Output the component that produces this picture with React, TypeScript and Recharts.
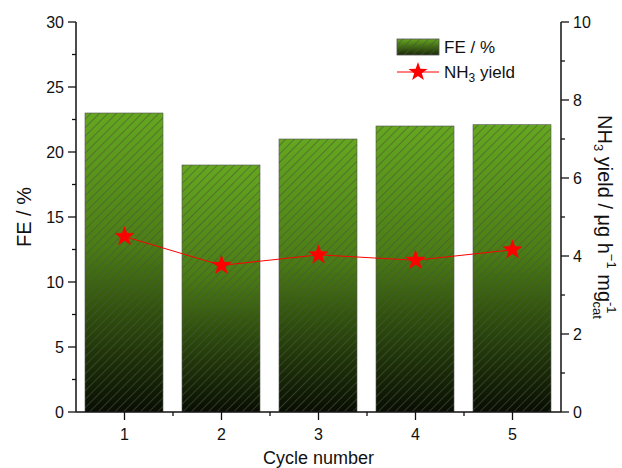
import React from 'react';
import { ComposedChart, Bar, Line, XAxis, YAxis, Legend, Label } from 'recharts';

const cycles = [1, 2, 3, 4, 5];
const feValues = [23.0, 19.0, 21.0, 22.0, 22.1];
const nh3Yield = [4.5, 3.76, 4.03, 3.89, 4.16];
const xTicks = [1, 1.5, 2, 2.5, 3, 3.5, 4, 4.5, 5];
const leftTicks = [0, 2.5, 5, 7.5, 10, 12.5, 15, 17.5, 20, 22.5, 25, 27.5, 30];
const rightTicks = [0, 1, 2, 3, 4, 5, 6, 7, 8, 9, 10];

const data = cycles.map((c, i) => ({ cycle: c, fe: feValues[i], nh3: nh3Yield[i] }));

const FONT = 'Liberation Sans, Arial, sans-serif';
const AXIS = '#111';

const starPoints = (cx: number, cy: number, ro: number, ri: number) => {
  const pts: string[] = [];
  for (let k = 0; k < 10; k++) {
    const r = k % 2 === 0 ? ro : ri;
    const a = -Math.PI / 2 + (k * Math.PI) / 5;
    pts.push(`${cx + r * Math.cos(a)},${cy + r * Math.sin(a)}`);
  }
  return pts.join(' ');
};

const StarDot = (props: any) => {
  const { cx, cy, index } = props;
  if (cx == null || cy == null) return null;
  return <polygon key={`s${index}`} points={starPoints(cx, cy, 10, 4)} fill="#ff0000" stroke="#ff0000" strokeWidth={0.5} />;
};

const BarShape = (props: any) => {
  const { x, y, width, height } = props;
  return (
    <g>
      <rect x={x} y={y} width={width} height={height} fill="url(#feGrad)" />
      <rect x={x} y={y} width={width} height={height} fill="url(#feHatch)" stroke="#555" strokeWidth={0.6} />
    </g>
  );
};

const LeftTick = (props: any) => {
  const { x, y, payload } = props;
  const major = payload.value % 5 === 0;
  return (
    <g>
      <line x1={x - (major ? 8 : 4)} x2={x} y1={y} y2={y} stroke={AXIS} strokeWidth={1.3} />
      {major && (
        <text x={x - 12} y={y} dy={5.5} textAnchor="end" fontSize={16} fontFamily={FONT} fill="#111">
          {payload.value}
        </text>
      )}
    </g>
  );
};

const RightTick = (props: any) => {
  const { x, y, payload } = props;
  const major = payload.value % 2 === 0;
  return (
    <g>
      <line x1={x} x2={x + (major ? 8 : 4)} y1={y} y2={y} stroke={AXIS} strokeWidth={1.3} />
      {major && (
        <text x={x + 12} y={y} dy={5.5} textAnchor="start" fontSize={16} fontFamily={FONT} fill="#111">
          {payload.value}
        </text>
      )}
    </g>
  );
};

const BottomTick = (props: any) => {
  const { x, y, payload } = props;
  const major = Number.isInteger(payload.value);
  return (
    <g>
      <line x1={x} x2={x} y1={y} y2={y + (major ? 8 : 4)} stroke={AXIS} strokeWidth={1.3} />
      {major && (
        <text x={x} y={y + 28} textAnchor="middle" fontSize={16} fontFamily={FONT} fill="#111">
          {payload.value}
        </text>
      )}
    </g>
  );
};

const TopTick = (props: any) => {
  const { x, y } = props;
  return <line x1={x} x2={x} y1={y} y2={y + 6} stroke={AXIS} strokeWidth={1.3} />;
};

const RightLabel = (props: any) => {
  const vb = props.viewBox || {};
  const cx = vb.x + 44;
  const cy = vb.y + vb.height / 2;
  return (
    <text
      x={cx}
      y={cy}
      textAnchor="middle"
      dominantBaseline="central"
      transform={`rotate(90, ${cx}, ${cy})`}
      fontSize={20}
      fontFamily={FONT}
      fill="#111"
    >
      NH<tspan fontSize={13} dy={6}>3</tspan>
      <tspan dy={-6}> yield / μg h</tspan>
      <tspan fontSize={13} dy={-7}>−1</tspan>
      <tspan dy={7}> mg</tspan>
      <tspan fontSize={13} dy={-7}>-1</tspan>
      <tspan fontSize={13} dx={-12} dy={14}>cat</tspan>
    </text>
  );
};

const LeftLabel = (props: any) => {
  const vb = props.viewBox || {};
  const cx = vb.x + 24;
  const cy = vb.y + vb.height / 2;
  return (
    <text
      x={cx}
      y={cy}
      textAnchor="middle"
      dominantBaseline="central"
      transform={`rotate(-90, ${cx}, ${cy})`}
      fontSize={20}
      fontFamily={FONT}
      fill="#111"
    >
      FE / %
    </text>
  );
};

const LegendContent = () => (
  <svg width={160} height={52} style={{ display: 'block', overflow: 'visible' }}>
    <rect x={2} y={1} width={42} height={16} fill="url(#legGrad)" />
    <rect x={2} y={1} width={42} height={16} fill="url(#feHatch)" stroke="#555" strokeWidth={0.8} />
    <text x={49} y={15} fontSize={17} fontFamily={FONT} fill="#111">FE / %</text>
    <line x1={2} x2={44} y1={34} y2={34} stroke="#ff0000" strokeWidth={1} />
    <polygon points={starPoints(23, 34, 10, 4)} fill="#ff0000" />
    <text x={49} y={40} fontSize={17} fontFamily={FONT} fill="#111">
      NH<tspan fontSize={12} dy={4}>3</tspan>
      <tspan dy={-4}> yield</tspan>
    </text>
  </svg>
);

export default function App() {
  return (
    <div style={{ position: 'absolute', left: 0, top: 0, width: 622, height: 468, background: '#fff' }}>
      <ComposedChart
        width={622}
        height={468}
        data={data}
        margin={{ top: 22, right: 0, bottom: 0, left: 0 }}
      >
        <defs>
          <linearGradient id="feGrad" x1="0" y1="0" x2="0" y2="1">
            <stop offset="0%" stopColor="#65a71f" />
            <stop offset="45%" stopColor="#4a7c15" />
            <stop offset="100%" stopColor="#080d03" />
          </linearGradient>
          <linearGradient id="legGrad" x1="0" y1="0" x2="0" y2="1">
            <stop offset="0%" stopColor="#65a71f" />
            <stop offset="100%" stopColor="#1a2a08" />
          </linearGradient>
          <pattern id="feHatch" patternUnits="userSpaceOnUse" width={6} height={6} patternTransform="rotate(45)">
            <rect x={0} y={0} width={1} height={6} fill="rgba(75,85,60,0.6)" />
          </pattern>
        </defs>
        <XAxis
          dataKey="cycle"
          type="number"
          domain={[0.5, 5.5]}
          ticks={xTicks}
          interval={0}
          height={56}
          tickSize={0}
          tickMargin={0}
          tickLine={false}
          axisLine={{ stroke: AXIS, strokeWidth: 1.5 }}
          tick={<BottomTick />}
          allowDataOverflow
        >
          <Label value="Cycle number" position="insideBottom" offset={0} dy={-4} style={{ fontSize: 18, fontFamily: FONT, fill: '#111' }} />
        </XAxis>
        <XAxis
          xAxisId="top"
          orientation="top"
          type="number"
          domain={[0.5, 5.5]}
          ticks={cycles}
          interval={0}
          height={0}
          tickSize={0}
          tickMargin={0}
          tickLine={false}
          axisLine={{ stroke: AXIS, strokeWidth: 1.5 }}
          tick={<TopTick />}
          allowDataOverflow
        />
        <YAxis
          yAxisId="left"
          domain={[0, 30]}
          ticks={leftTicks}
          interval={0}
          width={76}
          tickSize={0}
          tickMargin={0}
          tickLine={false}
          axisLine={{ stroke: AXIS, strokeWidth: 1.5 }}
          tick={<LeftTick />}
          allowDataOverflow
        >
          <Label content={<LeftLabel />} />
        </YAxis>
        <YAxis
          yAxisId="right"
          orientation="right"
          domain={[0, 10]}
          ticks={rightTicks}
          interval={0}
          width={61}
          tickSize={0}
          tickMargin={0}
          tickLine={false}
          axisLine={{ stroke: AXIS, strokeWidth: 1.5 }}
          tick={<RightTick />}
          allowDataOverflow
        >
          <Label content={<RightLabel />} />
        </YAxis>
        <Legend
          layout="vertical"
          align="center"
          verticalAlign="middle"
          content={<LegendContent />}
          wrapperStyle={{ top: 38, left: 395, width: 170, height: 52 }}
        />
        <Bar
          dataKey="fe"
          yAxisId="left"
          barSize={78}
          shape={<BarShape />}
          isAnimationActive={false}
        />
        <Line
          dataKey="nh3"
          yAxisId="right"
          stroke="#ff0000"
          strokeWidth={1}
          dot={<StarDot />}
          activeDot={false}
          isAnimationActive={false}
        />
      </ComposedChart>
    </div>
  );
}
